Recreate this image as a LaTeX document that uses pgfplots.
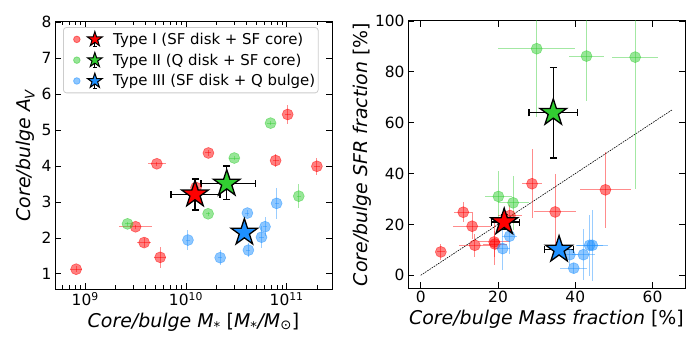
\documentclass[border=0pt]{standalone}
\usepackage{fontspec}
\setmainfont{DejaVu Sans}
\usepackage{pgfplots}
\pgfplotsset{compat=1.18}

\definecolor{cred}{RGB}{255,0,0}
\definecolor{cgreen}{RGB}{50,205,50}
\definecolor{cblue}{RGB}{30,144,255}

\pgfdeclareplotmark{fstar}{%
  \pgfpathmoveto{\pgfqpoint{0pt}{\pgfplotmarksize}}%
  \pgfpathlineto{\pgfqpoint{-0.2245\pgfplotmarksize}{0.3090\pgfplotmarksize}}%
  \pgfpathlineto{\pgfqpoint{-0.9511\pgfplotmarksize}{0.3090\pgfplotmarksize}}%
  \pgfpathlineto{\pgfqpoint{-0.3633\pgfplotmarksize}{-0.1180\pgfplotmarksize}}%
  \pgfpathlineto{\pgfqpoint{-0.5878\pgfplotmarksize}{-0.8090\pgfplotmarksize}}%
  \pgfpathlineto{\pgfqpoint{0pt}{-0.3820\pgfplotmarksize}}%
  \pgfpathlineto{\pgfqpoint{0.5878\pgfplotmarksize}{-0.8090\pgfplotmarksize}}%
  \pgfpathlineto{\pgfqpoint{0.3633\pgfplotmarksize}{-0.1180\pgfplotmarksize}}%
  \pgfpathlineto{\pgfqpoint{0.9511\pgfplotmarksize}{0.3090\pgfplotmarksize}}%
  \pgfpathlineto{\pgfqpoint{0.2245\pgfplotmarksize}{0.3090\pgfplotmarksize}}%
  \pgfpathclose
  \pgfusepathqfillstroke
}

\pgfplotsset{
  myaxis/.style={scale only axis, width=277bp, height=267bp, anchor=south west,
    tick align=inside, major tick length=6bp, minor tick length=3.5bp,
    every tick/.style={black, line width=0.8bp},
    axis line style={line width=1bp},
    tick label style={font=\fontsize{15.5}{18}\selectfont},
    label style={font=\fontsize{19}{22}\selectfont},
    /pgf/number format/assume math mode=true,
  },
  pts/.style={only marks, mark=*, mark size=5.5bp,
    mark options={draw=#1, fill=#1, draw opacity=0.5, fill opacity=0.5, line width=0.6bp},
    error bars/x dir=both, error bars/x explicit, error bars/y dir=both, error bars/y explicit,
    error bars/error mark=none,
    error bars/error bar style={#1, opacity=0.45, line width=1bp}},
  bigstar/.style={only marks, mark=fstar, mark size=14bp,
    mark options={draw=black, fill=#1, line width=1.3bp},
    error bars/x dir=both, error bars/x explicit, error bars/y dir=both, error bars/y explicit,
    error bars/error mark=-,
    error bars/error bar style={black, line width=1.4bp},
    error bars/error mark options={rotate=90, black, line width=1.4bp, mark size=3.5bp}},
  legimg/.style={legend image code/.code={
    \path (0bp,-10bp) (46bp,10bp);
    \fill[#1, opacity=0.5] (12bp,0bp) circle (3.3bp);
    \draw[black, line width=0.8bp] (30bp,-7bp) -- (30bp,7bp);
    \draw[black, line width=0.8bp] (28bp,-7bp) -- (32bp,-7bp);
    \draw[black, line width=1bp, fill=#1] plot[only marks, mark=fstar, mark size=7.8bp] coordinates {(30bp,0bp)};
  }},
}

\begin{document}
\begin{tikzpicture}
\useasboundingbox (0,0) rectangle (700bp,350bp);

% ---------------- left panel ----------------
\begin{axis}[myaxis, at={(55bp,61bp)},
  xmin=8.70, xmax=11.45, ymin=0.58, ymax=8,
  xtick={9,10,11}, xticklabels={10\textsuperscript{9},10\textsuperscript{10},10\textsuperscript{11}},
  minor xtick={8.778,8.845,8.903,8.954,9.301,9.477,9.602,9.699,9.778,9.845,9.903,9.954,10.301,10.477,10.602,10.699,10.778,10.845,10.903,10.954,11.301},
  ytick={1,2,3,4,5,6,7,8},
  xlabel={{\itshape Core/bulge M\textsubscript{*}} [{\itshape M\textsubscript{*}/M\textsubscript{⊙}}]},
  ylabel={\itshape Core/bulge A\textsubscript{V}},
  legend style={at={(0.029,0.981)}, anchor=north west, draw=black!20, line width=0.8bp,
    rounded corners=3bp, fill=white, font=\fontsize{15}{17}\selectfont,
    inner xsep=1bp, inner ysep=1.5bp},
  legend cell align=left,
]
\addlegendimage{legimg=cred}
\addlegendentry{Type I (SF disk + SF core)}
\addlegendimage{legimg=cgreen}
\addlegendentry{Type II (Q disk + SF core)}
\addlegendimage{legimg=cblue}
\addlegendentry{Type III (SF disk + Q bulge)}

\addplot[pts=cred, forget plot] coordinates {
 (8.91,1.13) +- (0.06,0.08)
 (9.50,2.31) +- (0.16,0.06)
 (9.585,1.87) +- (0.07,0.12)
 (9.744,1.46) +- (0.06,0.30)
 (9.711,4.06) +- (0.09,0.05)
 (10.10,3.40) +- (0.03,0.05)
 (10.223,4.36) +- (0.03,0.08)
 (10.89,4.15) +- (0.03,0.18)
 (11.01,5.43) +- (0.03,0.27)
 (11.30,3.99) +- (0.03,0.24)
};
\addplot[pts=cgreen, forget plot] coordinates {
 (9.42,2.39) +- (0.03,0.05)
 (10.22,2.67) +- (0.02,0.05)
 (10.48,4.22) +- (0.05,0.05)
 (10.84,5.19) +- (0.04,0.05)
 (11.12,3.16) +- (0.02,0.33)
};
\addplot[pts=cblue, forget plot] coordinates {
 (10.02,1.94) +- (0.02,0.27)
 (10.34,1.45) +- (0.02,0.20)
 (10.61,2.69) +- (0.02,0.08)
 (10.62,1.66) +- (0.02,0.20)
 (10.75,2.02) +- (0.02,0.30)
 (10.785,2.31) +- (0.02,0.27)
 (10.90,2.96) +- (0.02,0.43)
};
\addplot[bigstar=cred, forget plot] coordinates {(10.09,3.21) += (0.25,0.43) -= (0.24,0.43)};
\addplot[bigstar=cgreen, forget plot] coordinates {(10.405,3.51) += (0.285,0.49) -= (0.255,0.44)};
\addplot[bigstar=cblue, forget plot] coordinates {(10.58,2.15) +- (0.05,0.10)};
\end{axis}

% ---------------- right panel ----------------
\begin{axis}[myaxis, at={(408bp,62bp)},
  xmin=-3.3, xmax=68.4, ymin=-5, ymax=100,
  xtick={0,20,40,60}, ytick={0,20,40,60,80,100},
  xlabel={{\itshape Core/bulge Mass fraction} [\%]},
  ylabel={{\itshape Core/bulge SFR fraction} [\%]},
  ylabel style={xshift=0bp, yshift=-3bp},
]
\addplot[black, line width=0.6bp, dash pattern=on 1.6bp off 1bp, forget plot] coordinates {(0,0) (65,65)};
\addplot[pts=cred] coordinates {
 (5.2,9.2) +- (1,3)
 (11.0,24.8) +- (2.5,4)
 (13.3,19.3) +- (5,5)
 (14.0,11.8) +- (4,4.5)
 (19.0,13.1) +- (4,9)
 (19.2,12.3) +- (3,5)
 (23.1,23.5) +- (3,4)
 (28.8,36.0) +- (2.5,13.5)
 (34.8,24.9) +- (5.5,15)
 (47.8,33.6) +- (6.5,15)
};
\addplot[pts=cgreen] coordinates {
 (20.1,31.0) +- (3.5,10)
 (23.9,28.5) +- (4,10.5)
 (30.0,89.1) +- (10,27)
 (42.9,86.2) +- (4.5,17.5)
 (55.5,85.8) +- (6,52)
};
\addplot[pts=cblue] coordinates {
 (21.2,10.5) +- (2,8.5)
 (23.0,15.4) +- (2,7)
 (38.6,8.1) +- (2,4)
 (39.6,2.8) +- (3.5,2)
 (42.1,8.1) +- (3,10)
 (43.7,11.8) +- (3.5,12)
 (44.4,11.8) +- (4,14)
};
\addplot[bigstar=cred] coordinates {(21.6,20.9) += (4.0,3) -= (3.3,3)};
\addplot[bigstar=cgreen] coordinates {(34.3,63.9) += (6.3,17.9) -= (6.3,17.7)};
\addplot[bigstar=cblue] coordinates {(35.8,10.1) +- (3.7,2)};
\end{axis}
\end{tikzpicture}
\end{document}
